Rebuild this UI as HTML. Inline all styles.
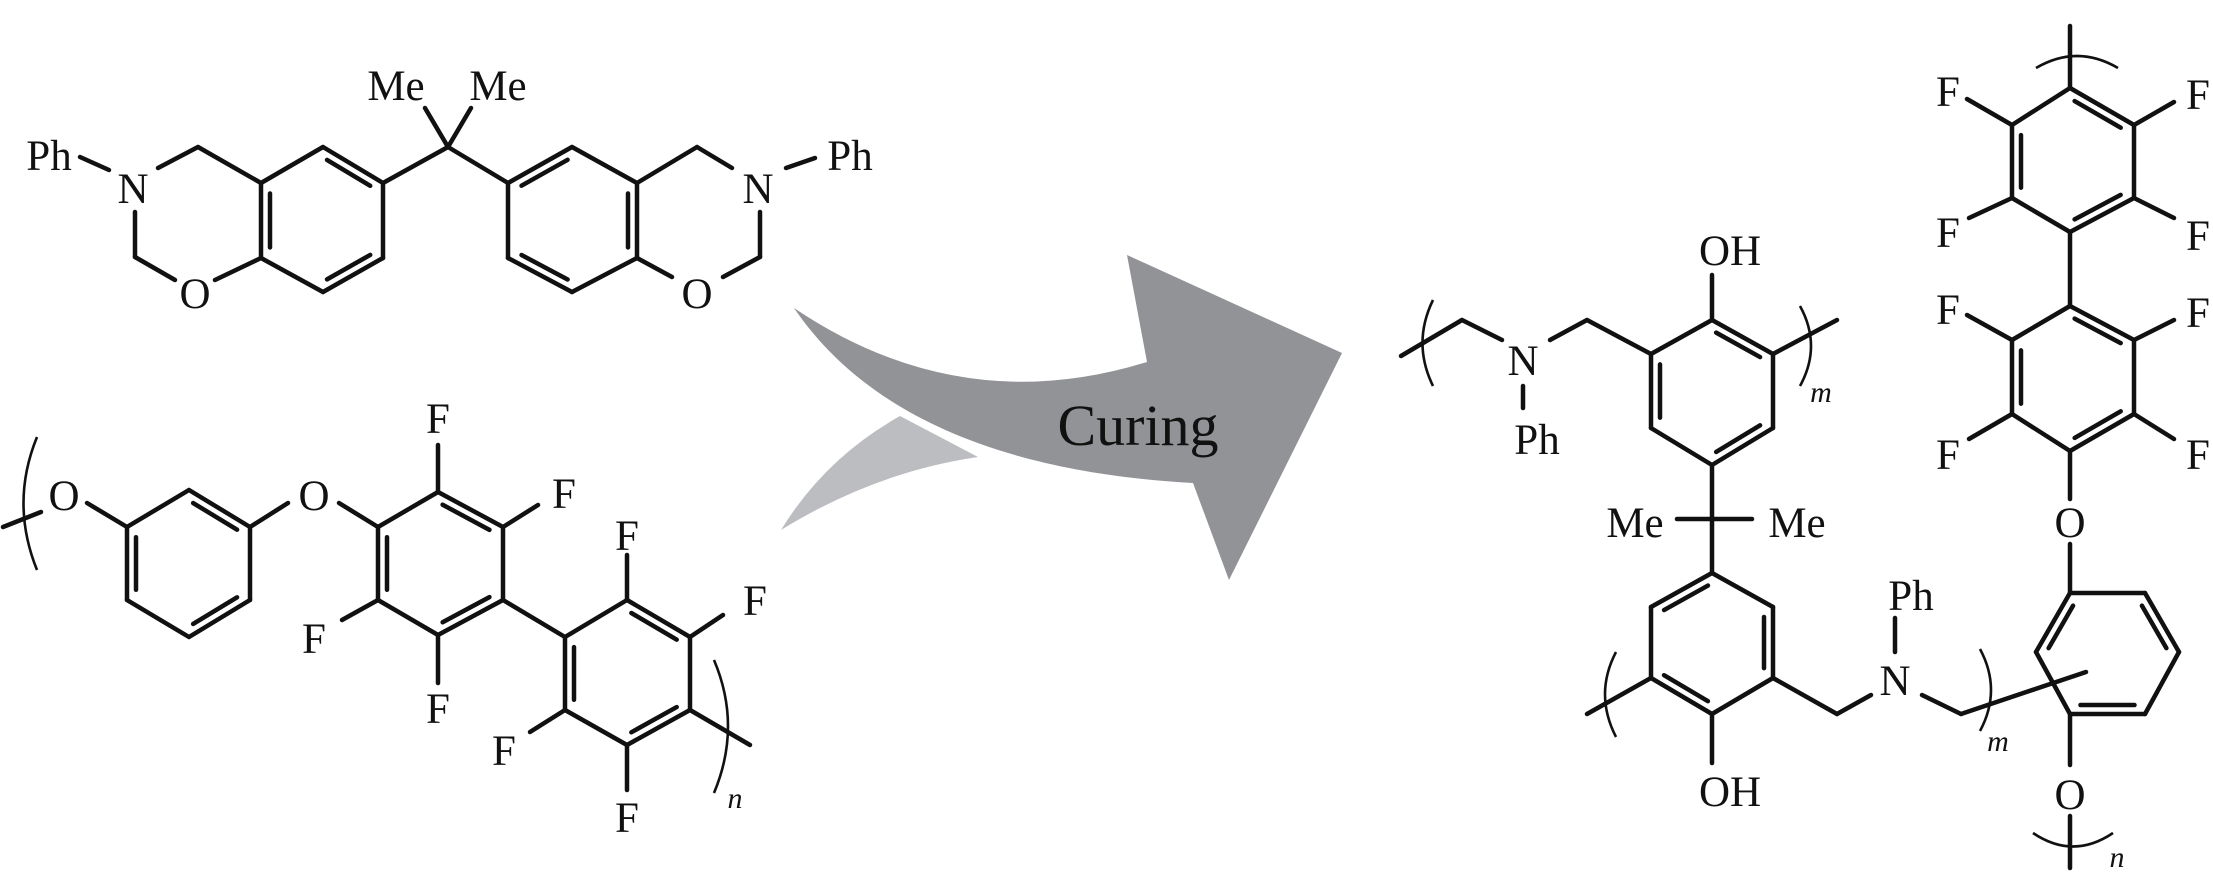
<!DOCTYPE html>
<html><head><meta charset="utf-8">
<style>
html,body{margin:0;padding:0;background:#fff;}
svg{display:block;}
text{font-family:"Liberation Serif",serif;fill:#111;}
</style></head>
<body>
<svg id="s" width="2213" height="886" viewBox="0 0 2213 886" xmlns="http://www.w3.org/2000/svg">
<rect width="2213" height="886" fill="#fff"/>
<path d="M781,530 Q825,458 900,416 L978,457 Q875,472 781,530 Z" fill="#bcbdc0"/>
<path d="M794,308 Q960,420 1147,362 L1127,255 L1342,353 L1229,580 L1193,483 C960,470 850,390 794,308 Z" fill="#929396"/>
<text x="1138" y="445" font-size="58" text-anchor="middle">Curing</text>
<g id="b" stroke="#111" stroke-width="4.5" fill="none" stroke-linecap="round" stroke-linejoin="round"></g>
<g stroke="#111" stroke-width="2.6" fill="none">
<path d="M37,437 Q10,503 37,570"/>
<path d="M714,660 Q742,726 714,793"/>
<path d="M1433,300 Q1412,343 1433,386"/>
<path d="M1800,306 Q1822,346 1800,386"/>
<path d="M1616,652 Q1594,694 1616,737"/>
<path d="M1980,649 Q2002,690 1980,731"/>
<path d="M2036,68 Q2077,44 2118,68"/>
<path d="M2033,833 Q2073,860 2113,833"/>
</g>
<g font-size="43" text-anchor="middle">
<text x="49" y="170">Ph</text>
<text x="133" y="203">N</text>
<text x="195" y="308">O</text>
<text x="396" y="100">Me</text>
<text x="498" y="100">Me</text>
<text x="758" y="203">N</text>
<text x="697" y="308">O</text>
<text x="850" y="170">Ph</text>
<text x="64" y="510">O</text>
<text x="314" y="510">O</text>
<text x="438" y="433">F</text>
<text x="564" y="508">F</text>
<text x="314" y="653">F</text>
<text x="438" y="723">F</text>
<text x="627" y="550">F</text>
<text x="755" y="615">F</text>
<text x="504" y="765">F</text>
<text x="627" y="832">F</text>
<text x="735" y="808" font-size="30" font-style="italic">n</text>
<text x="1523" y="375">N</text>
<text x="1537" y="454">Ph</text>
<text x="1730" y="265">OH</text>
<text x="1821" y="402" font-size="30" font-style="italic">m</text>
<text x="1635" y="537">Me</text>
<text x="1797" y="537">Me</text>
<text x="1730" y="806">OH</text>
<text x="1895" y="695">N</text>
<text x="1911" y="610">Ph</text>
<text x="1998" y="751" font-size="30" font-style="italic">m</text>
<text x="2070" y="537">O</text>
<text x="2070" y="809">O</text>
<text x="2117" y="867" font-size="30" font-style="italic">n</text>
<text x="1948" y="106">F</text>
<text x="2198" y="109">F</text>
<text x="1948" y="247">F</text>
<text x="2198" y="250">F</text>
<text x="1948" y="324">F</text>
<text x="2198" y="327">F</text>
<text x="1948" y="469">F</text>
<text x="2198" y="469">F</text>
</g>
</svg>
<script>
(function(){
var g=document.getElementById('b'),NS='http://www.w3.org/2000/svg';
function L(a,b,c,d){var l=document.createElementNS(NS,'line');l.setAttribute('x1',a);l.setAttribute('y1',b);l.setAttribute('x2',c);l.setAttribute('y2',d);g.appendChild(l);}
function P(arr){for(var i=0;i<arr.length-1;i++)L(arr[i][0],arr[i][1],arr[i+1][0],arr[i+1][1]);}
function R(p,d){var cx=0,cy=0;p.forEach(function(q){cx+=q[0];cy+=q[1];});cx/=6;cy/=6;
for(var i=0;i<6;i++){var a=p[i],b=p[(i+1)%6];L(a[0],a[1],b[0],b[1]);}
d.forEach(function(i){var a=p[i],b=p[(i+1)%6];var mx=(a[0]+b[0])/2,my=(a[1]+b[1])/2;
var dx=cx-mx,dy=cy-my,len=Math.hypot(dx,dy);var ox=dx/len*9,oy=dy/len*9;
var s=0.14;var x1=a[0]+(b[0]-a[0])*s+ox,y1=a[1]+(b[1]-a[1])*s+oy,x2=b[0]-(b[0]-a[0])*s+ox,y2=b[1]-(b[1]-a[1])*s+oy;L(x1,y1,x2,y2);});}
R([[261,183],[323,147],[383,183],[383,258],[323,292],[261,258]],[1,3,5]);
R([[508,183],[572,147],[637,183],[637,258],[572,292],[508,258]],[0,2,4]);
L(80,157,109,170);P([[158,168],[198,147],[261,183]]);P([[135,212],[135,257],[175,280]]);L(215,280,261,258);
L(383,183,448,147);L(448,147,508,183);L(448,147,425,108);L(448,147,471,108);
P([[637,183],[697,147],[732,168]]);P([[760,212],[760,257],[723,277]]);L(672,277,637,258);L(786,168,815,158);
R([[127,527],[189,490],[250,527],[250,600],[189,637],[127,600]],[1,3,5]);
R([[378,527],[438,492],[503,527],[503,600],[438,635],[378,600]],[1,3,5]);
R([[565,637],[627,600],[690,637],[690,710],[627,745],[565,710]],[1,3,5]);
L(3,527,41,512);L(87,503,127,527);L(250,527,288,503);L(339,503,378,527);
L(438,492,438,445);L(503,527,538,505);L(378,600,342,620);L(438,635,438,683);
L(503,600,565,637);L(627,600,627,555);L(690,637,723,615);L(565,710,530,732);L(627,745,627,790);L(690,710,750,745);
R([[1651,354],[1712,320],[1773,354],[1773,428],[1712,465],[1651,428]],[1,3,5]);
R([[1651,607],[1712,573],[1773,607],[1773,678],[1712,714],[1651,678]],[0,2,4]);
R([[2070,593],[2145,593],[2179,652],[2145,714],[2070,714],[2036,652]],[1,3,5]);
R([[2012,340],[2070,306],[2134,340],[2134,414],[2070,451],[2012,414]],[1,3,5]);
R([[2012,125],[2070,88],[2134,125],[2134,198],[2070,232],[2012,198]],[1,3,5]);
P([[1401,356],[1462,320],[1502,340]]);P([[1550,340],[1587,320],[1651,354]]);L(1523,386,1523,408);
L(1712,320,1712,275);L(1773,354,1837,320);
L(1712,465,1712,573);L(1677,519,1752,519);
L(1712,714,1712,763);L(1651,678,1587,714);
P([[1773,678],[1837,714],[1871,695]]);L(1895,618,1895,652);P([[1922,695],[1961,714],[2086,672]]);
L(2070,544,2070,593);L(2070,499,2070,451);L(2070,714,2070,765);L(2070,816,2070,868);
L(2012,340,1967,315);L(2134,340,2174,320);L(2012,414,1969,439);L(2134,414,2174,439);
L(2070,306,2070,232);
L(2012,125,1967,99);L(2134,125,2174,102);L(2012,198,1969,218);L(2134,198,2174,218);
L(2070,88,2070,26);
})();
</script>
</body></html>
